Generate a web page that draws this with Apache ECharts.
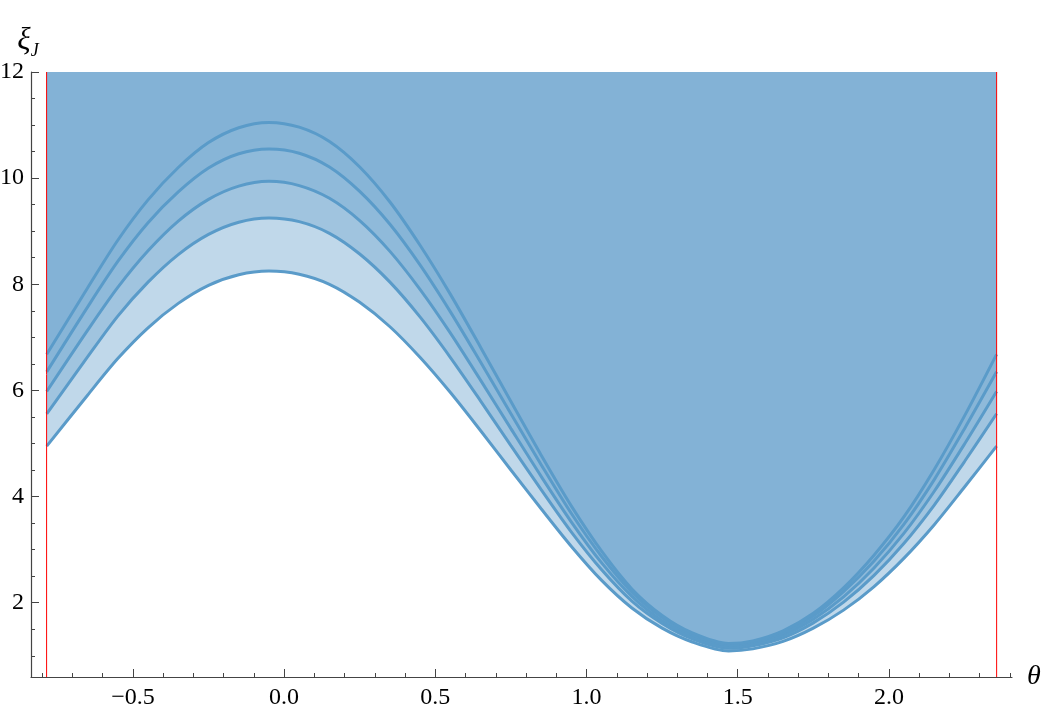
<!DOCTYPE html>
<html>
<head>
<meta charset="utf-8">
<script src="https://cdn.jsdelivr.net/npm/echarts@6/dist/echarts.min.js"></script>
<style>
html,body{margin:0;padding:0;background:#fff;}
#chart{width:1042px;height:711px;}
</style>
</head>
<body>
<div id="chart"></div>
<script>
// theta sample positions
const theta = [-0.785, -0.65, -0.55, -0.45, -0.35, -0.25, -0.15, -0.05, 0.05, 0.15, 0.25, 0.35, 0.45, 0.55, 0.65, 0.75, 0.85, 0.95, 1.05, 1.15, 1.25, 1.35, 1.47, 1.55, 1.65, 1.75, 1.85, 1.95, 2.05, 2.15, 2.25, 2.356];
// curves (lowest to highest)
const xi1 = [4.95, 5.91, 6.60, 7.18, 7.64, 7.98, 8.18, 8.25, 8.19, 8.00, 7.66, 7.20, 6.62, 5.96, 5.24, 4.50, 3.77, 3.06, 2.42, 1.90, 1.52, 1.26, 1.09, 1.13, 1.27, 1.52, 1.86, 2.30, 2.84, 3.47, 4.18, 4.95];
const xi2 = [5.56, 6.63, 7.40, 8.04, 8.56, 8.94, 9.17, 9.25, 9.18, 8.96, 8.57, 8.04, 7.38, 6.62, 5.80, 4.96, 4.13, 3.33, 2.62, 2.03, 1.61, 1.32, 1.14, 1.19, 1.34, 1.62, 2.01, 2.51, 3.12, 3.84, 4.66, 5.56];
const xi3 = [5.98, 7.13, 7.94, 8.63, 9.19, 9.60, 9.85, 9.94, 9.86, 9.62, 9.20, 8.62, 7.90, 7.08, 6.19, 5.28, 4.38, 3.52, 2.75, 2.12, 1.66, 1.36, 1.17, 1.22, 1.39, 1.69, 2.11, 2.65, 3.31, 4.10, 4.99, 5.98];
const xi4 = [6.35, 7.57, 8.43, 9.16, 9.74, 10.19, 10.46, 10.55, 10.47, 10.21, 9.75, 9.13, 8.36, 7.48, 6.53, 5.56, 4.60, 3.68, 2.87, 2.20, 1.72, 1.40, 1.21, 1.26, 1.43, 1.75, 2.21, 2.78, 3.48, 4.32, 5.28, 6.35];
const xi5 = [6.68, 7.93, 8.83, 9.59, 10.20, 10.67, 10.95, 11.05, 10.96, 10.69, 10.21, 9.55, 8.73, 7.81, 6.81, 5.79, 4.78, 3.82, 2.97, 2.26, 1.76, 1.43, 1.23, 1.28, 1.47, 1.80, 2.28, 2.89, 3.62, 4.51, 5.52, 6.68];
// boundary lines (theta = -pi/4, 3pi/4)
const boundaries = [-0.7854, 2.3562];
// ticks
const xMajorTicks = [-0.5, 0.0, 0.5, 1.0, 1.5, 2.0];
const xMinorTicks = [-0.8,-0.7,-0.6,-0.5,-0.4,-0.3,-0.2,-0.1,0,0.1,0.2,0.3,0.4,0.5,0.6,0.7,0.8,0.9,1.0,1.1,1.2,1.3,1.4,1.5,1.6,1.7,1.8,1.9,2.0,2.1,2.2,2.3,2.4];
const yMajorTicks = [2, 4, 6, 8, 10, 12];
const yMinorTicks = [1,1.5,2,2.5,3,3.5,4,4.5,5,5.5,6,6.5,7,7.5,8,8.5,9,9.5,10,10.5,11,11.5,12];

const curves = [xi1, xi2, xi3, xi4, xi5];
const X_MIN = -0.837, X_MAX = 2.407, Y_MIN = 0.6, Y_MAX = 12;
const axisColor = '#444';
const font = '"Liberation Serif", "DejaVu Serif", serif';

const chart = echarts.init(document.getElementById('chart'), null, {renderer: 'canvas'});

function fmt(v) {
  const s = Math.abs(v).toFixed(1);
  return v < 0 ? '\u2212' + s : s;
}

const series = curves.map(function (c) {
  return {
    type: 'line',
    xAxisIndex: 0, yAxisIndex: 0,
    data: theta.map(function (t, i) { return [t, c[i]]; }),
    smooth: 0.3,
    symbol: 'none',
    lineStyle: {color: '#5a9bc9', width: 3},
    areaStyle: {origin: 'end', color: 'rgba(127,175,212,0.49)', opacity: 1},
    silent: true,
    z: 2
  };
});
boundaries.forEach(function (b) {
  series.push({
    type: 'line', xAxisIndex: 0, yAxisIndex: 0, silent: true, z: 10,
    data: [[b, Y_MIN], [b, Y_MAX]],
    symbol: 'none', smooth: false,
    lineStyle: {color: '#ff0000', width: 1}
  });
});

chart.setOption({
  animation: false,
  backgroundColor: '#fff',
  grid: {left: 31, right: 30, top: 72, bottom: 34, containLabel: false, outerBoundsMode: 'none'},
  xAxis: [
    {
      type: 'value', min: X_MIN, max: X_MAX, position: 'bottom',
      name: '\u03b8', nameLocation: 'end', nameGap: 15,
      nameTextStyle: {fontFamily: font, fontStyle: 'italic', fontSize: 28, color: '#000', verticalAlign: 'middle'},
      axisLine: {show: true, onZero: false, lineStyle: {color: axisColor, width: 1.2}},
      axisTick: {show: true, inside: true, length: 8, customValues: xMajorTicks, lineStyle: {color: axisColor, width: 1}},
      axisLabel: {show: true, customValues: xMajorTicks, formatter: fmt, fontFamily: font, fontSize: 24, color: '#000', margin: 9},
      splitLine: {show: false}
    },
    {
      type: 'value', min: X_MIN, max: X_MAX, position: 'bottom',
      axisLine: {show: false, onZero: false},
      axisTick: {show: true, inside: true, length: 4, customValues: xMinorTicks, lineStyle: {color: axisColor, width: 1}},
      axisLabel: {show: false},
      splitLine: {show: false}
    }
  ],
  yAxis: [
    {
      type: 'value', min: Y_MIN, max: Y_MAX, position: 'left',
      name: '{a|\u03be}{b|J}', nameLocation: 'end', nameGap: 10,
      nameTextStyle: {
        align: 'center',
        padding: [0, 6, 0, 0],
        rich: {
          a: {fontFamily: font, fontStyle: 'italic', fontSize: 31, color: '#000', verticalAlign: 'bottom'},
          b: {fontFamily: font, fontStyle: 'italic', fontSize: 18, color: '#000', verticalAlign: 'bottom', padding: [0, 0, -4, 0]}
        }
      },
      axisLine: {show: true, onZero: false, lineStyle: {color: axisColor, width: 1.2}},
      axisTick: {show: true, inside: true, length: 8, customValues: yMajorTicks, lineStyle: {color: axisColor, width: 1}},
      axisLabel: {show: true, customValues: yMajorTicks, fontFamily: font, fontSize: 24, color: '#000', margin: 7},
      splitLine: {show: false}
    },
    {
      type: 'value', min: Y_MIN, max: Y_MAX, position: 'left',
      axisLine: {show: false, onZero: false},
      axisTick: {show: true, inside: true, length: 4, customValues: yMinorTicks, lineStyle: {color: axisColor, width: 1}},
      axisLabel: {show: false},
      splitLine: {show: false}
    }
  ],
  series: series
});
</script>
</body>
</html>
